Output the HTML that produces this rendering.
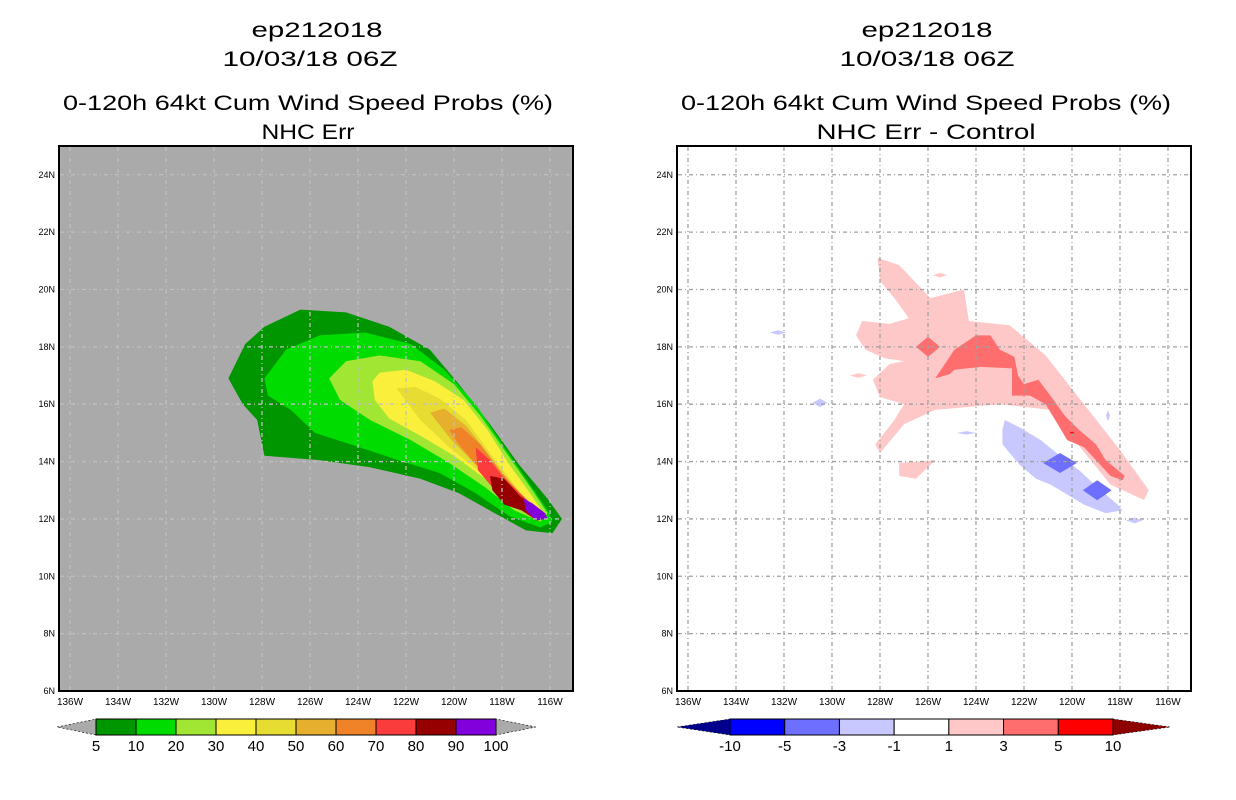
<!DOCTYPE html>
<html><head><meta charset="utf-8"><style>
body{margin:0;background:#fff;}
svg{display:block;}
text{font-family:"Liberation Sans",sans-serif;}
</style></head><body>
<svg id="s" width="1236" height="800" xmlns="http://www.w3.org/2000/svg">
<rect width="1236" height="800" fill="#fff"/>
<g font-size="21" text-anchor="middle" fill="#000">
<text x="317" y="37" textLength="131" lengthAdjust="spacingAndGlyphs">ep212018</text><text x="310" y="66" textLength="175" lengthAdjust="spacingAndGlyphs">10/03/18 06Z</text>
<text x="308" y="110" textLength="490" lengthAdjust="spacingAndGlyphs">0-120h 64kt Cum Wind Speed Probs (%)</text><text x="308" y="139" textLength="93" lengthAdjust="spacingAndGlyphs">NHC Err</text></g>
<g font-size="21" text-anchor="middle" fill="#000">
<text x="927" y="37" textLength="131" lengthAdjust="spacingAndGlyphs">ep212018</text><text x="927" y="66" textLength="175" lengthAdjust="spacingAndGlyphs">10/03/18 06Z</text>
<text x="926" y="110" textLength="490" lengthAdjust="spacingAndGlyphs">0-120h 64kt Cum Wind Speed Probs (%)</text><text x="926" y="139" textLength="219" lengthAdjust="spacingAndGlyphs">NHC Err - Control</text></g>
<g id="L"></g><g id="R"></g>
</svg>
<script>
const lonTicks=[136,134,132,130,128,126,124,122,120,118,116];
const latTicks=[24,22,20,18,16,14,12,10,8,6];
const leftLevels=[5,10,20,30,40,50,60,70,80,90,100];
const leftColors=['#009600','#00dc00','#a0e632','#faf03c','#e6dc32','#e6af2d','#f08228','#fa3c3c','#960000','#8200dc'];
const rightLevels=[-10,-5,-3,-1,1,3,5,10];
const rightColors=['#0000ff','#6e6eff','#c8c8ff','#ffffff','#ffc8c8','#ff6e6e','#ff0000'];
const p5=[[129.4,16.9],[128.7,18.1],[127.9,18.7],[126.4,19.3],[124.5,19.2],[122.7,18.7],[121.0,17.9],[119.8,16.7],[118.5,15.3],[117.3,13.9],[116.1,12.7],[115.5,12.0],[115.9,11.5],[117.0,11.6],[118.3,12.2],[119.8,12.9],[121.4,13.4],[123.5,13.8],[125.6,14.05],[127.9,14.2],[128.2,15.45],[128.8,16.0]];
const p10=[[127.9,16.9],[127.0,17.9],[125.6,18.4],[123.7,18.5],[121.8,18.1],[120.4,17.2],[119.1,16.0],[118.1,14.75],[117.0,13.4],[116.1,12.3],[115.9,11.9],[116.4,11.7],[117.7,12.1],[119.1,12.9],[120.6,13.6],[122.5,14.1],[124.3,14.6],[125.8,15.0],[126.8,15.8],[127.75,16.3]];
const p20=[[125.2,16.9],[124.5,17.5],[123.1,17.7],[121.4,17.5],[120.0,16.7],[118.9,15.6],[117.9,14.4],[116.9,13.2],[116.1,12.2],[116.4,11.9],[117.5,12.3],[118.7,13.1],[120.2,13.95],[121.8,14.75],[123.5,15.45],[124.75,16.15]];
const p30=[[123.4,16.8],[123.1,17.1],[122.0,17.2],[120.8,16.8],[119.6,16.15],[118.6,15.1],[117.7,13.9],[116.75,12.8],[116.2,12.1],[116.6,12.0],[117.6,12.66],[118.7,13.4],[120.0,14.2],[121.4,14.9],[122.7,15.5],[123.3,16.15]];
const p40=[[122.4,16.55],[121.6,16.6],[120.6,16.2],[119.5,15.45],[118.5,14.3],[117.5,13.2],[116.5,12.2],[116.8,12.1],[117.9,12.8],[119.0,13.7],[120.2,14.5],[121.4,15.45]];
const p50=[[121.0,15.7],[120.4,15.85],[119.5,15.25],[118.7,14.4],[117.75,13.35],[116.75,12.4],[117.0,12.2],[118.1,13.0],[119.1,13.9],[120.1,14.75]];
const p60=[[120.2,15.1],[119.7,15.2],[118.9,14.6],[118.1,13.7],[117.0,12.66],[117.25,12.5],[118.2,13.2],[119.1,13.9],[119.8,14.6]];
const p70=[[119.1,14.5],[118.5,14.05],[117.9,13.4],[117.0,12.7],[116.5,12.3],[116.2,12.0],[116.6,11.95],[117.5,12.5],[118.3,13.0],[119.0,13.7]];
const p80=[[118.5,13.5],[117.9,13.4],[117.25,12.8],[116.6,12.4],[116.2,12.0],[116.5,11.95],[117.2,12.3],[117.9,12.5],[118.4,13.0]];
const p90=[[117.1,12.7],[116.75,12.55],[116.2,12.2],[116.1,12.0],[116.6,11.95],[117.0,12.3]];
const leftPolys=[p5,p10,p20,p30,p40,p50,p60,p70,p80,p90];
const pinkMain=[[128.1,21.1],[127.2,20.85],[125.9,19.7],[124.5,20.0],[124.3,18.9],[122.6,18.75],[121.1,17.7],[119.5,16.0],[118.0,14.4],[116.8,13.0],[117.0,12.66],[118.4,13.2],[119.9,14.75],[120.9,15.8],[123.0,16.0],[125.7,15.8],[127.0,15.3],[128.0,14.3],[128.2,14.6],[127.4,15.45],[127.0,16.0],[128.0,16.25],[128.3,16.85],[127.6,17.4],[127.0,17.5],[127.8,17.6],[128.6,17.9],[129.0,18.4],[128.75,18.9],[127.6,18.8],[126.8,19.0],[127.4,19.7],[128.0,20.3]];
const pinkSmall=[[127.2,13.95],[125.7,14.05],[126.5,13.4],[127.2,13.5]];
const redMain=[[125.7,16.9],[124.9,17.9],[124.0,18.4],[123.4,18.4],[123.0,17.9],[122.4,17.65],[122.25,17.0],[122.0,16.7],[121.4,16.85],[120.9,16.3],[120.3,15.6],[119.7,15.1],[119.0,14.6],[118.6,14.05],[117.8,13.5],[117.9,13.35],[118.4,13.5],[119.0,14.05],[119.5,14.5],[120.2,14.75],[120.7,15.45],[121.1,16.0],[121.75,16.3],[122.5,16.3],[122.5,17.25],[123.8,17.3],[124.9,17.2],[125.1,17.05]];
const blueMain=[[122.8,15.45],[122.2,15.2],[121.3,14.75],[120.5,14.2],[119.7,13.7],[118.8,13.0],[118.1,12.5],[117.9,12.3],[118.6,12.2],[119.5,12.5],[120.3,12.9],[120.9,13.2],[121.5,13.4],[122.2,13.9],[122.9,14.6],[122.9,15.1]];
const redDots=[[126.0,18.0,0.5,0.35,'#ff6e6e'],[120.0,15.0,0.1,0.05,'#ff0000'],[125.5,20.5,0.3,0.08,'#ffc8c8'],[128.9,17.0,0.35,0.08,'#ffc8c8']];
const blueDots=[[120.5,13.95,0.7,0.35,'#6e6eff'],[118.95,13.0,0.6,0.35,'#6e6eff'],[132.25,18.5,0.35,0.08,'#c8c8ff'],[130.5,16.05,0.3,0.15,'#c8c8ff'],[124.4,15.0,0.4,0.06,'#c8c8ff'],[117.4,11.95,0.35,0.1,'#c8c8ff'],[118.5,15.6,0.08,0.2,'#c8c8ff']];
const NS='http://www.w3.org/2000/svg';
function X(lon,off){return off+70+(136-lon)*24;}
function Y(lat){return 691-(lat-6)*28.68;}
function mk(tag,parent,attrs){const e=document.createElementNS(NS,tag);for(const k in attrs)e.setAttribute(k,attrs[k]);parent.appendChild(e);return e;}
function pts(p,off){return p.map(q=>X(q[0],off).toFixed(1)+','+Y(q[1]).toFixed(1)).join(' ');}
function panel(g,off,bg){
  const r=mk('rect',g,{x:off+59,y:146,width:514,height:545,fill:bg});
  
  
  return r;
}
function grid(g,off,col){
  lonTicks.forEach(l=>{const x=X(l,off);if(x>off+60&&x<off+572){const ln=mk('line',g,{x1:x,y1:147,x2:x,y2:690,stroke:col,'stroke-width':1.3,'stroke-dasharray':'4,3,1,3'});
  
  }});
  latTicks.forEach(l=>{const y=Y(l);if(y>147&&y<690){const ln=mk('line',g,{x1:off+60,y1:y,x2:off+572,y2:y,stroke:col,'stroke-width':1.3,'stroke-dasharray':'4,3,1,3'});
  
  }});
}
function axes(g,off){
  const f=mk('rect',g,{x:off+59,y:146,width:514,height:545,fill:'none',stroke:'#000','stroke-width':2});
  
  
  lonTicks.forEach(l=>{const t=mk('text',g,{x:X(l,off),y:705,'font-size':10,'text-anchor':'middle'});t.textContent=l+'W';
  
  });
  latTicks.forEach(l=>{const t=mk('text',g,{x:off+55,y:Y(l)+3,'font-size':9,'text-anchor':'end'});t.textContent=l+'N';
  
  });
}
function dot(g,off,d){const [lo,la,w,h,c]=d;const cx=X(lo,off),cy=Y(la),dx=w*24,dy=h*28.68;
  const p=mk('polygon',g,{points:`${cx-dx},${cy} ${cx},${cy-dy} ${cx+dx},${cy} ${cx},${cy+dy}`,fill:c});
  
  }
function colorbar(g,levels,colors,x0,x1,lowTip,highTip,tipL,tipR){
  const n=colors.length,w=(x1-x0)/n,y0=719,h=16;
  const a=mk('polygon',g,{points:`${tipL},${y0+h/2} ${x0},${y0} ${x0},${y0+h}`,fill:lowTip,stroke:'#000','stroke-width':0.6,'stroke-dasharray':'2,2'});
  
  
  const b=mk('polygon',g,{points:`${tipR},${y0+h/2} ${x1},${y0} ${x1},${y0+h}`,fill:highTip,stroke:'#000','stroke-width':0.6,'stroke-dasharray':'2,2'});
  
  
  colors.forEach((c,i)=>{const r=mk('rect',g,{x:x0+i*w,y:y0,width:w,height:h,fill:c,stroke:'#000','stroke-width':1});
  
  });
  levels.forEach((l,i)=>{const t=mk('text',g,{x:x0+i*w,y:751,'font-size':15,'text-anchor':'middle'});t.textContent=l;
  
  });
}
const L=document.getElementById('L'),R=document.getElementById('R');


panel(L,0,'#aaaaaa');
leftPolys.forEach((p,i)=>{const e=mk('polygon',L,{points:pts(p,0),fill:leftColors[i]});
  
  });
grid(L,0,'#c0c0c0');axes(L,0);
colorbar(L,leftLevels,leftColors,96,496,'#aaaaaa','#aaaaaa',57,536);
panel(R,618,'#ffffff');
[[pinkMain,'#ffc8c8'],[pinkSmall,'#ffc8c8'],[redMain,'#ff6e6e'],[blueMain,'#c8c8ff']].forEach(([p,c])=>{const e=mk('polygon',R,{points:pts(p,618),fill:c});
  
  });
redDots.forEach(d=>dot(R,618,d));blueDots.forEach(d=>dot(R,618,d));
grid(R,618,'#a0a0a0');axes(R,618);
colorbar(R,rightLevels,rightColors,730,1113,'#00008c','#8c0000',677,1170);
</script>
</body></html>
